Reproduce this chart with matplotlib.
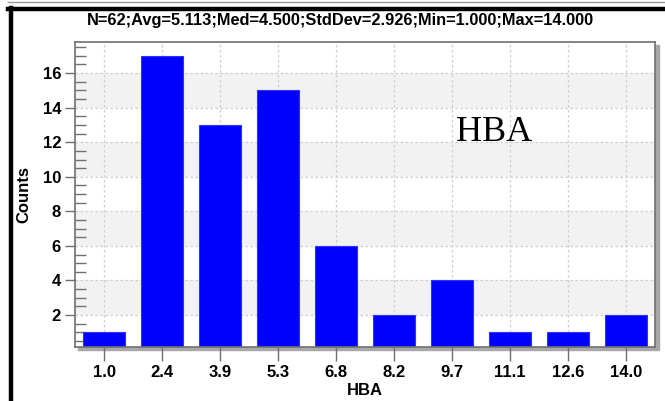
import matplotlib
matplotlib.use("Agg")
import matplotlib.pyplot as plt
from matplotlib.patches import Rectangle
from matplotlib.lines import Line2D
import numpy as np

# histogram data
bin_labels = ["1.0", "2.4", "3.9", "5.3", "6.8", "8.2", "9.7", "11.1", "12.6", "14.0"]
bin_centers = [1.0, 2.444, 3.889, 5.333, 6.778, 8.222, 9.667, 11.111, 12.556, 14.0]
counts = [1, 17, 13, 15, 6, 2, 4, 1, 1, 2]
title = "N=62;Avg=5.113;Med=4.500;StdDev=2.926;Min=1.000;Max=14.000"

W, H = 665, 401
fig = plt.figure(figsize=(W / 100, H / 100), dpi=100)
plt.rcParams['font.family'] = ['Liberation Sans', 'DejaVu Sans']

def px(x0, y0, x1, y1):
    # pixel box (top-down) -> figure fraction rect
    return [x0 / W, 1 - y1 / H, (x1 - x0) / W, (y1 - y0) / H]

ax_l, ax_t, ax_r, ax_b = 75, 42, 655, 347
ax = fig.add_axes(px(ax_l, ax_t, ax_r, ax_b))

# shadow behind the plot frame
fig.patches.append(Rectangle((78 / W, 1 - 350 / H), (ax_r + 4 - 78) / W, (350 - 45) / H,
                             transform=fig.transFigure, color='#a8a8a8', zorder=-1))

bw = 13.0 / 9
ylo, yhi = 0.15, 17.8
ax.set_xlim(bin_centers[0] - bw / 2, bin_centers[-1] + bw / 2)
ax.set_ylim(ylo, yhi)

# alternating bands
for y0 in range(2, 18, 4):
    ax.axhspan(y0, y0 + 2, color='#f2f2f2', zorder=0, lw=0)

for y in range(2, 18, 2):
    ax.axhline(y, color='#cfcfcf', lw=0.9, ls=(0, (2, 2)), zorder=0.5)
for x in bin_centers:
    ax.axvline(x, color='#cfcfcf', lw=0.9, ls=(0, (2, 2)), zorder=0.5)

ax.bar(bin_centers, counts, width=bw * 0.72, color='#0000ff', edgecolor='#3030ff',
       lw=0.8, zorder=2)

ax.set_xticks(bin_centers)
ax.set_xticklabels(bin_labels)
ax.set_yticks(range(2, 18, 2))
ax.set_yticks(np.arange(0.5, 18, 0.5), minor=True)
ax.tick_params(axis='y', which='major', direction='out', length=7, width=1,
               color='#707070', labelsize=12, pad=3)
ax.tick_params(axis='y', which='minor', direction='in', length=8, width=1, color='#707070')
ax.tick_params(axis='x', which='major', direction='out', length=10, width=1,
               color='#707070', labelsize=12, pad=3)
for lab in ax.get_xticklabels() + ax.get_yticklabels():
    lab.set_fontweight('bold')

for s in ax.spines.values():
    s.set_color('#707070')
    s.set_linewidth(1.2)

ax.set_xlabel("HBA", fontsize=12, fontweight='bold', labelpad=2)
ax.set_ylabel("Counts", fontsize=12, fontweight='bold', labelpad=8)

ax.text(10.72, 12.57, "HBA", family=['Liberation Serif', 'DejaVu Serif'], fontsize=26,
        ha='center', va='center', zorder=3)

fig.text(340 / W, 1 - 20 / H, title, ha='center', va='center', fontsize=11.8,
         fontweight='bold')

# outer frame lines
fig.add_artist(Line2D([8 / W, 1], [1 - 2 / H, 1 - 2 / H], color='#9a9a9a', lw=1))
fig.add_artist(Line2D([8 / W, 1], [1 - 9 / H, 1 - 9 / H], color='black', lw=3.2))
fig.add_artist(Line2D([10.5 / W, 10.5 / W], [0, 1 - 7.5 / H], color='black', lw=3.2))

fig.savefig("out.png", dpi=100)
